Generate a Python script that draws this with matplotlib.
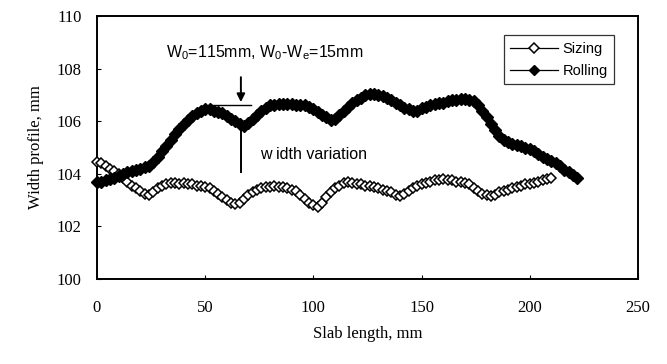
import numpy as np
import matplotlib
matplotlib.use("Agg")
import matplotlib.pyplot as plt

plt.rcParams['font.family'] = ['Liberation Serif', 'DejaVu Serif']
plt.rcParams['mathtext.fontset'] = 'custom'
plt.rcParams['mathtext.rm'] = 'Liberation Sans'
plt.rcParams['mathtext.it'] = 'Liberation Sans'

# slab length sampling (mm)
sizing_x0, sizing_step = 0, 2
rolling_x0, rolling_step = 0, 2

# width profile after sizing press, mm
sizing_w = [104.45, 104.4, 104.3, 104.2, 104.1, 104.0, 103.85, 103.7, 103.55, 103.45,
            103.35, 103.25, 103.2, 103.3, 103.45, 103.55, 103.6, 103.65, 103.65, 103.6,
            103.65, 103.6, 103.6, 103.55, 103.55, 103.5, 103.45, 103.35, 103.25, 103.1,
            103.0, 102.9, 102.85, 102.9, 103.05, 103.2, 103.3, 103.4, 103.45, 103.5,
            103.5, 103.55, 103.5, 103.5, 103.45, 103.4, 103.35, 103.2, 103.05, 102.9,
            102.8, 102.75, 102.9, 103.1, 103.3, 103.45, 103.55, 103.65, 103.7, 103.65,
            103.6, 103.6, 103.55, 103.55, 103.5, 103.45, 103.4, 103.35, 103.3, 103.2,
            103.15, 103.25, 103.35, 103.45, 103.55, 103.6, 103.65, 103.7, 103.75, 103.75,
            103.8, 103.75, 103.75, 103.7, 103.7, 103.65, 103.6, 103.45, 103.35, 103.25,
            103.2, 103.15, 103.2, 103.3, 103.35, 103.4, 103.45, 103.5, 103.55, 103.6,
            103.6, 103.65, 103.7, 103.75, 103.8, 103.85]

# width profile after rolling, mm
rolling_w = [103.7, 103.7, 103.75, 103.8, 103.85, 103.9, 104.0, 104.05, 104.1, 104.15,
             104.2, 104.25, 104.3, 104.45, 104.65, 104.85, 105.05, 105.3, 105.5, 105.7,
             105.9, 106.05, 106.2, 106.3, 106.4, 106.45, 106.45, 106.4, 106.35, 106.3,
             106.2, 106.1, 106.0, 105.9, 105.8, 105.95, 106.1, 106.25, 106.4, 106.5,
             106.6, 106.6, 106.65, 106.65, 106.65, 106.65, 106.6, 106.6, 106.6, 106.55,
             106.45, 106.35, 106.25, 106.15, 106.05, 106.1, 106.25, 106.4, 106.55, 106.7,
             106.8, 106.9, 107.0, 107.05, 107.05, 107.0, 106.95, 106.9, 106.8, 106.7,
             106.6, 106.5, 106.45, 106.4, 106.4, 106.5, 106.55, 106.6, 106.65, 106.7,
             106.7, 106.75, 106.8, 106.8, 106.85, 106.85, 106.8, 106.75, 106.6, 106.4,
             106.15, 105.9, 105.65, 105.45, 105.3, 105.2, 105.15, 105.1, 105.05, 105.0,
             104.95, 104.85, 104.75, 104.65, 104.55, 104.5, 104.4, 104.3, 104.15, 104.05,
             103.95, 103.85]

sizing_x = sizing_x0 + sizing_step * np.arange(len(sizing_w))
rolling_x = rolling_x0 + rolling_step * np.arange(len(rolling_w))

xticks = [0, 50, 100, 150, 200, 250]
yticks = [100, 102, 104, 106, 108, 110]

fig = plt.figure(figsize=(6.67, 3.64), dpi=100)
ax = fig.add_axes([0.1454, 0.2335, 0.8111, 0.7225])

ax.plot(sizing_x, sizing_w, color='black', lw=0.8, marker='D', markersize=5.3,
        markerfacecolor='white', markeredgecolor='black', markeredgewidth=1.1,
        label='Sizing', clip_on=False, zorder=3)
ax.plot(rolling_x, rolling_w, color='black', lw=2.5, marker='D', markersize=6.6,
        markerfacecolor='black', markeredgecolor='black',
        label='Rolling', clip_on=False, zorder=4)

ax.set_xlim(0, 250)
ax.set_ylim(100, 110)
ax.set_xticks(xticks)
ax.set_yticks(yticks)
ax.tick_params(direction='in', length=3, width=0.8, labelsize=12)
ax.tick_params(axis='x', pad=15)
ax.tick_params(axis='y', pad=11)
for s in ax.spines.values():
    s.set_linewidth(1.4)

ax.set_xlabel('Slab length, mm', fontsize=12, labelpad=7)
ax.set_ylabel('Width profile, mm', fontsize=12, labelpad=9)

# width variation marker
ax.annotate('', xy=(66.5, 106.62), xytext=(66.5, 107.78),
            arrowprops=dict(arrowstyle='-|>', color='black', lw=1.4, mutation_scale=12))
ax.plot([53, 71], [106.62, 106.62], color='black', lw=1.0)
ax.plot([66.5, 66.5], [105.8, 104.07], color='black', lw=1.4)
ax.text(32.0, 108.6, r'W$_0$=115mm, W$_0$-W$_e$=15mm', family='Liberation Sans',
        fontsize=11.5, va='center', ha='left')
ax.text(75.5, 104.75, 'w idth variation', family='Liberation Sans',
        fontsize=11.5, va='center', ha='left')

leg = ax.legend(loc='upper right', bbox_to_anchor=(0.97, 0.955), frameon=True,
                fancybox=False, edgecolor='black', handlelength=3.3,
                prop={'family': 'Liberation Sans', 'size': 10.5}, borderpad=0.45,
                labelspacing=0.55, handletextpad=0.3)
leg.get_frame().set_linewidth(0.9)
for h in leg.get_lines():
    h.set_linewidth(0.9)
    h.set_markersize(5.5)

fig.savefig('out.png', dpi=100)
